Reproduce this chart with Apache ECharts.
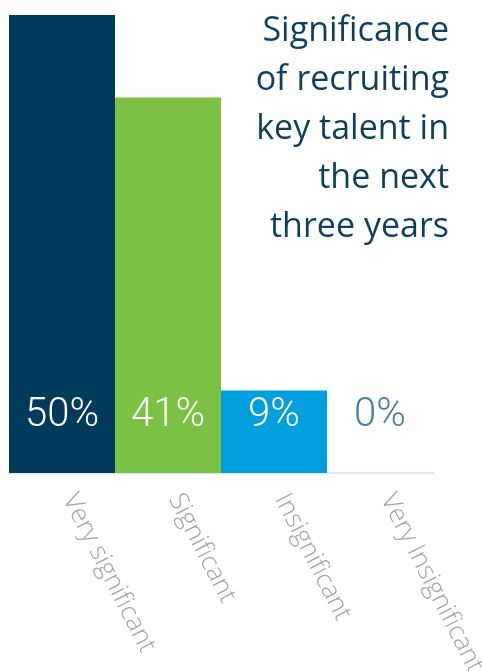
<!DOCTYPE html>
<html>
<head>
<meta charset="utf-8">
<script src="https://cdn.jsdelivr.net/npm/echarts@6/dist/echarts.min.js"></script>
<style>
  html, body { margin: 0; padding: 0; background: #ffffff; }
  #chart { width: 482px; height: 671px; }
</style>
</head>
<body>
<div id="chart"></div>
<script>
// Survey answers and their shares (percent of respondents)
const categories = ['Very significant', 'Significant', 'Insignificant', 'Very Insignificant'];
const shares = [50, 41, 9, 0];
const barColors = ['#003b5c', '#7bc143', '#009fdd', '#dde8f4'];
const labelColors = ['#ffffff', '#ffffff', '#ffffff', '#4b7d9c'];
const titleText = 'Significance\nof recruiting\nkey talent in\nthe next\nthree years';

const chart = echarts.init(document.getElementById('chart'));

chart.setOption({
  animation: false,
  backgroundColor: '#ffffff',
  graphic: [{
    type: 'text',
    x: 449,
    y: 7,
    z: 10,
    style: {
      text: titleText,
      fontFamily: 'Open Sans',
      fontSize: 34,
      fontWeight: 'normal',
      fill: '#0e3f5f',
      lineHeight: 49,
      align: 'right',
      verticalAlign: 'top'
    }
  }],
  grid: { left: 9, right: 49, top: 15, bottom: 198, containLabel: false, outerBoundsMode: 'none' },
  xAxis: {
    type: 'category',
    data: categories,
    axisLine: { show: true, lineStyle: { color: '#dde8f4', width: 2 } },
    axisTick: { show: false },
    axisLabel: {
      rotate: -63,
      margin: 26,
      verticalAlign: 'bottom',
      lineHeight: 16,
      color: '#a3a3a3',
      fontFamily: 'Open Sans',
      fontWeight: 300,
      fontSize: 26,
      interval: 0
    }
  },
  yAxis: {
    type: 'value',
    min: 0,
    max: 50,
    show: false,
    splitLine: { show: false }
  },
  series: [{
    type: 'bar',
    barCategoryGap: 0,
    data: shares.map((v, i) => ({
      value: v,
      itemStyle: { color: barColors[i] },
      label: { color: labelColors[i] }
    })),
    label: {
      show: true,
      position: 'insideBottom',
      distance: 37,
      formatter: p => p.value + '%',
      fontFamily: 'Roboto',
      fontWeight: 300,
      fontSize: 40
    }
  }]
});
</script>
</body>
</html>
